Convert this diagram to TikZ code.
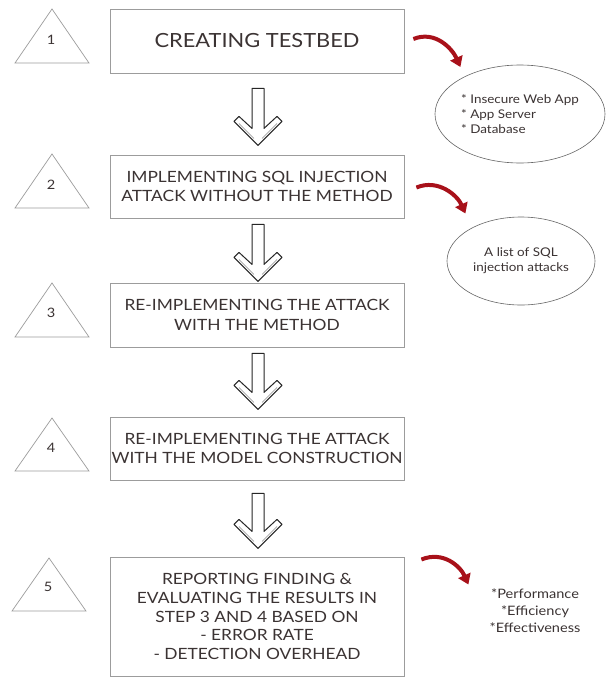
\documentclass[tikz,border=0pt]{standalone}
\usepackage{fontspec}
\setmainfont{Lato}[FakeStretch=1.12]
\usetikzlibrary{arrows.meta,calc,shapes.geometric}
\definecolor{txt}{HTML}{3B3333}
\definecolor{boxline}{HTML}{9C9C9C}
\definecolor{swoosh}{HTML}{A8111A}
\tikzset{
  stepbox/.style={draw=boxline,line width=0.8pt,minimum width=294pt,align=center,text=txt,font=\fontsize{15.5}{19.5}\selectfont,inner sep=0pt},
  num/.style={text=txt,font=\fontsize{13}{15}\selectfont,inner sep=0pt},
  triline/.style={draw=boxline,line width=0.7pt,line join=miter},
  bubble/.style={draw=black!60,line width=0.6pt,ellipse,text=txt,inner sep=0pt},
  redarrow/.style={draw=swoosh,line width=4pt,-{Triangle[length=10pt,width=13pt]}},
  pics/blockarrow/.style={code={
    \draw[black!85,line width=1pt,fill=white,line join=round]
      (-6,-#1) -- (-6,-17) -- (-19,-29) -- (-24,-24) -- (0,0) -- (24,-24) -- (19,-29) -- (6,-17) -- (6,-#1) -- cycle;
    \draw[black!45,line width=0.5pt] (-19,-22) -- (-4,-7);
    \draw[black!45,line width=0.5pt] (19,-22) -- (4,-7);
  }}
}
\begin{document}
\begin{tikzpicture}[x=1pt,y=-1pt]
\useasboundingbox[fill=white] (0,0) rectangle (609,677);
% boxes
\node[stepbox,minimum height=64pt,font=\fontsize{19.5}{23}\selectfont] (b1) at (257,41) {CREATING TESTBED};
\node[stepbox,minimum height=63pt] (b2) at (257,186.5) {IMPLEMENTING SQL INJECTION\\ATTACK WITHOUT THE METHOD};
\node[stepbox,minimum height=64pt] (b3) at (257,315) {RE-IMPLEMENTING THE ATTACK\\WITH THE METHOD};
\node[stepbox,minimum height=63pt] (b4) at (257,448.5) {RE-IMPLEMENTING THE ATTACK\\WITH THE MODEL CONSTRUCTION};
\node[stepbox,minimum height=119pt,font=\fontsize{15.5}{18.8}\selectfont] (b5) at (257,616.5) {REPORTING FINDING \&\\EVALUATING THE RESULTS IN\\STEP 3 AND 4 BASED ON\\- ERROR RATE\\- DETECTION OVERHEAD};
% triangles with numbers
\node[num] (n1) at (51,40) {1};
\draw[triline] ($(n1)+(1,-31)$) -- ($(n1)+(38,23)$) -- ($(n1)+(-36,23)$) -- cycle;
\node[num] (n2) at (51,185) {2};
\draw[triline] ($(n2)+(1,-31)$) -- ($(n2)+(38,23)$) -- ($(n2)+(-36,23)$) -- cycle;
\node[num] (n3) at (51,313) {3};
\draw[triline] ($(n3)+(1,-30)$) -- ($(n3)+(38,24)$) -- ($(n3)+(-36,24)$) -- cycle;
\node[num] (n4) at (51,448) {4};
\draw[triline] ($(n4)+(1,-30)$) -- ($(n4)+(38,23)$) -- ($(n4)+(-36,23)$) -- cycle;
\node[num] (n5) at (48,587) {5};
\draw[triline] ($(n5)+(1,-29)$) -- ($(n5)+(38,24)$) -- ($(n5)+(-36,24)$) -- cycle;
% block arrows (pic origin = tip)
\coordinate (a1) at ($(b1.south)+(1,72)$);
\pic at (a1) {blockarrow=57};
\coordinate (a2) at ($(b2.south)+(1,63)$);
\pic at (a2) {blockarrow=57};
\coordinate (a3) at ($(b3.south)+(1,62)$);
\pic at (a3) {blockarrow=56};
\coordinate (a4) at ($(b4.south)+(1,68)$);
\pic at (a4) {blockarrow=55};
% bubbles
\node[bubble,minimum width=170pt,minimum height=98pt,align=left,font=\fontsize{12}{15}\selectfont] (e1) at (520,114) {* Insecure Web App\\* App Server\\* Database};
\node[bubble,minimum width=148pt,minimum height=88pt,align=center,font=\fontsize{12}{15}\selectfont] (e2) at (521,261) {A list of SQL\\injection attacks};
\node[text=txt,font=\fontsize{13}{17}\selectfont,align=center,inner sep=0pt] (e3) at (535,611) {*Performance\\*Efficiency\\*Effectiveness};
% red swooshes
\coordinate (r1s) at ($(b1.east)+(9,-2)$);
\coordinate (r1e) at ($(b1.east)+(56,26)$);
\draw[redarrow] (r1s) .. controls +(22,-9) and +(-8,-18) .. (r1e);
\coordinate (r2s) at ($(b2.east)+(12,1)$);
\coordinate (r2e) at ($(b2.east)+(61,27)$);
\draw[redarrow] (r2s) .. controls +(22,-9) and +(-8,-18) .. (r2e);
\coordinate (r3s) at ($(b5.east)+(17,-57)$);
\coordinate (r3e) at ($(b5.east)+(64,-32)$);
\draw[redarrow] (r3s) .. controls +(22,-9) and +(-8,-18) .. (r3e);
\end{tikzpicture}
\end{document}
